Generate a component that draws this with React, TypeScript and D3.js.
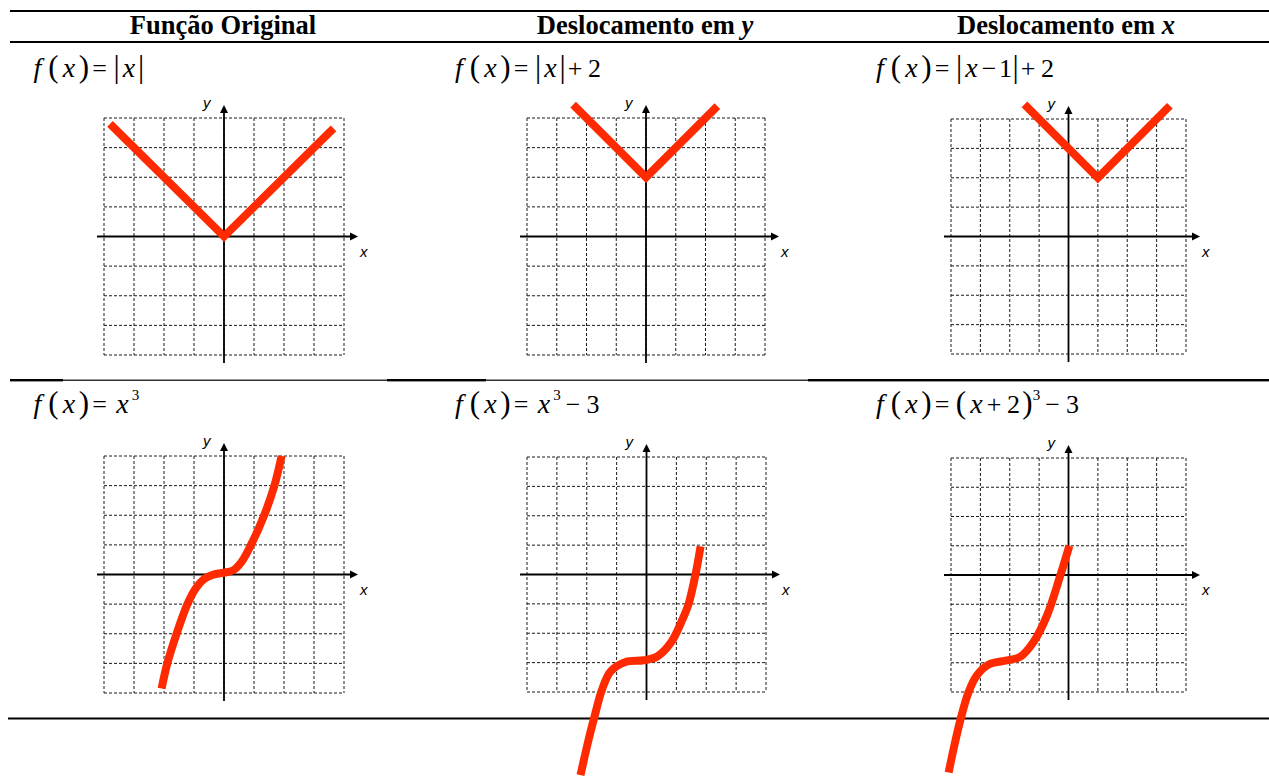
import React from "react";
import * as d3 from "d3";

const W = 1269;
const H = 776;

// Column headers
const headerTitles = ["Função Original", "Deslocamento em ", "Deslocamento em "];
const headerVars = ["", "y", "x"];

// Graph points (x, y) in grid units
const absOriginal: [number, number][] = [[-3.8, 3.8], [0, 0], [3.65, 3.65]];
const absShiftY: [number, number][] = [[-2.45, 4.45], [0, 2], [2.4, 4.4]];
const absShiftX: [number, number][] = [[-1.5, 4.5], [1, 2], [3.45, 4.45]];

const cubicOriginal: [number, number][] = [
  [-2.08, -3.85], [-1.89, -3], [-1.58, -2], [-1.22, -1], [-0.95, -0.48], [-0.65, -0.14],
  [-0.3, 0.01], [0, 0.06], [0.3, 0.14], [0.58, 0.42], [0.9, 1], [1.34, 2], [1.68, 3], [1.92, 4],
];
const cubicShiftY: [number, number][] = [
  [-2.21, -6.83], [-1.94, -5.63], [-1.71, -4.72], [-1.5, -3.95], [-1.2, -3.3], [-0.7, -2.98],
  [-0.09, -2.92], [0.36, -2.79], [0.81, -2.33], [1.2, -1.54], [1.41, -1], [1.64, 0], [1.81, 0.96],
];
const cubicShiftX: [number, number][] = [
  [-4.08, -6.75], [-3.88, -5.8], [-3.64, -4.8], [-3.4, -4.0], [-3.12, -3.43], [-2.7, -3.05],
  [-2.1, -2.92], [-1.65, -2.8], [-1.19, -2.29], [-0.73, -1.38], [-0.28, -0.02], [0.03, 1],
];

const gridTicks = [-4, -3, -2, -1, 0, 1, 2, 3, 4];

// Formula glyphs: i = italic letter, r = roman, b = tall delimiter, s = superscript
type Glyph = [string, "i" | "r" | "b" | "s"];
const formulaAbs: Glyph[] = [["f", "i"], ["(", "b"], ["x", "i"], [")", "b"], ["=", "r"], ["|", "b"], ["x", "i"], ["|", "b"]];
const formulaAbsShiftY: Glyph[] = [["f", "i"], ["(", "b"], ["x", "i"], [")", "b"], ["=", "r"], ["|", "b"], ["x", "i"], ["|", "b"], ["+", "r"], ["2", "r"]];
const formulaAbsShiftX: Glyph[] = [["f", "i"], ["(", "b"], ["x", "i"], [")", "b"], ["=", "r"], ["|", "b"], ["x", "i"], ["−", "r"], ["1", "r"], ["|", "b"], ["+", "r"], ["2", "r"]];
const formulaCubic: Glyph[] = [["f", "i"], ["(", "b"], ["x", "i"], [")", "b"], ["=", "r"], ["x", "i"], ["3", "s"]];
const formulaCubicShiftY: Glyph[] = [["f", "i"], ["(", "b"], ["x", "i"], [")", "b"], ["=", "r"], ["x", "i"], ["3", "s"], ["−", "r"], ["3", "r"]];
const formulaCubicShiftX: Glyph[] = [["f", "i"], ["(", "b"], ["x", "i"], [")", "b"], ["=", "r"], ["(", "b"], ["x", "i"], ["+", "r"], ["2", "r"], [")", "b"], ["3", "s"], ["−", "r"], ["3", "r"]];
const formulas = [formulaAbs, formulaAbsShiftY, formulaAbsShiftX, formulaCubic, formulaCubicShiftY, formulaCubicShiftX];

const colX = [37.5, 459, 880];
const headerCenters = [223, 645, 1066];
const rowFormulaY = [77, 413];

// Grid boxes of the six panels: [left, top, right, bottom]
const panelBoxes: [number, number, number, number][] = [
  [104, 118, 344, 355],
  [527, 118, 765, 355],
  [951, 119, 1186, 354],
  [104, 456, 344, 693],
  [527, 457, 766, 692],
  [951, 458, 1186, 692],
];
const panelData = [absOriginal, absShiftY, absShiftX, cubicOriginal, cubicShiftY, cubicShiftX];
const panelSmooth = [false, false, false, true, true, true];

const RED = "#ff2a00";
const SERIF = "'Liberation Serif', 'DejaVu Serif', serif";
const SANS = "'Liberation Sans', Arial, sans-serif";

function Panel({ box, points, smooth }: { box: [number, number, number, number]; points: [number, number][]; smooth: boolean }) {
  const [L, T, R, B] = box;
  const x = d3.scaleLinear().domain([-4, 4]).range([L, R]);
  const y = d3.scaleLinear().domain([-4, 4]).range([B, T]);
  const line = d3
    .line<[number, number]>()
    .x((d) => x(d[0]))
    .y((d) => y(d[1]))
    .curve(smooth ? d3.curveCatmullRom.alpha(0.5) : d3.curveLinear);
  const x0 = x(0);
  const y0 = y(0);
  return (
    <g>
      {gridTicks.map((t) => (
        <line key={"v" + t} x1={x(t)} x2={x(t)} y1={T} y2={B} stroke="#1a1a1a" strokeWidth={1} strokeDasharray="3,2" />
      ))}
      {gridTicks.map((t) => (
        <line key={"h" + t} x1={L} x2={R} y1={y(t)} y2={y(t)} stroke="#1a1a1a" strokeWidth={1} strokeDasharray="3,2" />
      ))}
      <line x1={L - 7} x2={R + 8} y1={y0} y2={y0} stroke="#000" strokeWidth={1.8} />
      <path d={`M${R + 14},${y0} L${R + 6},${y0 - 4} L${R + 6},${y0 + 4} Z`} fill="#000" />
      <line x1={x0} x2={x0} y1={B + 8} y2={T - 7} stroke="#000" strokeWidth={1.8} />
      <path d={`M${x0},${T - 13} L${x0 - 4},${T - 5} L${x0 + 4},${T - 5} Z`} fill="#000" />
      <text x={x0 - 21} y={T - 10} fontFamily={SANS} fontStyle="italic" fontSize={15}>y</text>
      <text x={R + 16} y={y0 + 20} fontFamily={SANS} fontStyle="italic" fontSize={15}>x</text>
      <path d={line(points) || ""} fill="none" stroke={RED} strokeWidth={8} strokeLinejoin="miter" strokeLinecap="butt" />
    </g>
  );
}

// centre-to-centre distance between two neighbouring glyphs
function gap(a: Glyph, b: Glyph): number {
  const [t, k] = a;
  const [u, kb] = b;
  if (k === "s") return 16;
  if (t === "f") return 16;
  if (t === "(") return 15.5;
  if (t === ")") return kb === "s" ? 9 : 15.5;
  if (t === "=") return u === "|" ? 17 : u === "(" ? 19 : 23;
  if (t === "|") return 12.5;
  if (t === "+") return 19.5;
  if (t === "−") return u === "1" ? 16.5 : 20;
  if (k === "i") {
    if (u === ")") return 15;
    if (u === "|") return 12;
    if (kb === "s") return 13;
    return 17.5;
  }
  // digits
  return u === "|" ? 10 : 14;
}

function Formula({ glyphs, x, y }: { glyphs: Glyph[]; x: number; y: number }) {
  let cx = x;
  return (
    <g fontFamily={SERIF} textAnchor="middle">
      {glyphs.map((g, i) => {
        const [t, k] = g;
        const px = cx;
        if (i < glyphs.length - 1) cx += gap(g, glyphs[i + 1]);
        if (k === "i")
          return <text key={i} x={px} y={y} fontStyle="italic" fontSize={28}>{t}</text>;
        if (k === "b")
          return <text key={i} x={px} y={y} fontSize={31}>{t}</text>;
        if (k === "s")
          return <text key={i} x={px} y={y - 13} fontSize={15}>{t}</text>;
        return <text key={i} x={px} y={y} fontSize={26}>{t}</text>;
      })}
    </g>
  );
}

export default function App() {
  return (
    <svg width={W} height={H} style={{ position: "absolute", left: 0, top: 0, display: "block", background: "#fff" }}>
      {/* table rules */}
      <rect x={10} y={10} width={W - 10} height={2} fill="#000" />
      <rect x={10} y={41} width={W - 10} height={2} fill="#000" />
      <rect x={10} y={379} width={53} height={2.4} fill="#000" />
      <rect x={63} y={379.6} width={324} height={1.2} fill="#000" />
      <rect x={387} y={379} width={99} height={2.4} fill="#000" />
      <rect x={486} y={379.6} width={322} height={1.2} fill="#000" />
      <rect x={808} y={379} width={W - 808} height={2.4} fill="#000" />
      <rect x={8} y={717.5} width={W - 8} height={2} fill="#000" />

      {headerTitles.map((t, i) => (
        <text key={i} x={headerCenters[i]} y={34} textAnchor="middle" fontFamily={SERIF} fontWeight="bold" fontSize={26.5}>
          {t}
          {headerVars[i] && <tspan fontStyle="italic">{headerVars[i]}</tspan>}
        </text>
      ))}

      {formulas.map((f, i) => (
        <Formula key={i} glyphs={f} x={colX[i % 3]} y={rowFormulaY[Math.floor(i / 3)]} />
      ))}

      {panelBoxes.map((b, i) => (
        <Panel key={i} box={b} points={panelData[i]} smooth={panelSmooth[i]} />
      ))}
    </svg>
  );
}
